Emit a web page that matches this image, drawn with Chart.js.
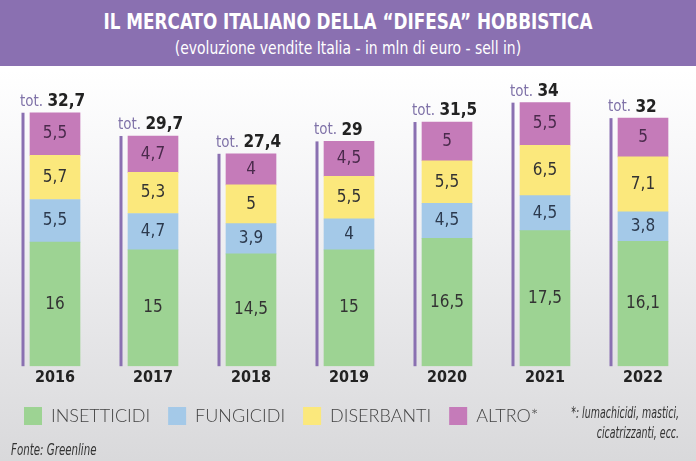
<!DOCTYPE html>
<html lang="it">
<head>
<meta charset="utf-8">
<script src="https://cdn.jsdelivr.net/npm/chart.js@4.4.0/dist/chart.umd.min.js"></script>
<style>
  html, body { margin: 0; padding: 0; }
  body {
    width: 696px; height: 461px; overflow: hidden; position: relative;
    background: linear-gradient(#ffffff 70px, #f3f3f5 200px, #d9d9db 461px);
    font-family: "DejaVu Sans Condensed", sans-serif;
  }
  .testata {
    position: absolute; left: 0; top: 0; width: 696px; height: 66px;
    background: #8a70b1; color: #fff; text-align: center;
  }
  .testata h1 {
    margin: 0; padding-top: 8px; font-size: 22px; font-weight: bold; line-height: 28px;
    transform: scaleX(0.85);
  }
  .testata p { margin: 0; font-size: 18px; line-height: 24px; transform: scaleX(0.86); }
  .grafico { position: absolute; left: 0; top: 66px; width: 696px; height: 395px; }
  .fonte {
    position: absolute; left: 11px; top: 441px; font-size: 15px; font-style: italic; color: #333;
    transform: scaleX(0.76); transform-origin: left center;
  }
  .nota {
    position: absolute; right: 17px; top: 403px; font-size: 15px; font-style: italic;
    color: #333; text-align: right; line-height: 20px;
    transform: scaleX(0.7); transform-origin: right center;
  }
</style>
</head>
<body>
<div class="testata">
  <h1>IL MERCATO ITALIANO DELLA “DIFESA” HOBBISTICA</h1>
  <p>(evoluzione vendite Italia - in mln di euro - sell in)</p>
</div>
<div class="grafico"><canvas id="grafico" width="696" height="395"></canvas></div>
<div class="nota">*: lumachicidi, mastici,<br>cicatrizzanti, ecc.</div>
<div class="fonte">Fonte: Greenline</div>

<script>
// dati (mln di euro)
const anni = ["2016", "2017", "2018", "2019", "2020", "2021", "2022"];
const insetticidi = [16, 15, 14.5, 15, 16.5, 17.5, 16.1];
const fungicidi = [5.5, 4.7, 3.9, 4, 4.5, 4.5, 3.8];
const diserbanti = [5.7, 5.3, 5, 5.5, 5.5, 6.5, 7.1];
const altro = [5.5, 4.7, 4, 4.5, 5, 5.5, 5];
const totali = ["32,7", "29,7", "27,4", "29", "31,5", "34", "32"];

const FONT = '"DejaVu Sans Condensed", sans-serif';
const coloriTesto = ["#333333", "#2c3a4e", "#333333", "#4a2a4c"];

function virgola(v) {
  return String(v).replace(".", ",");
}

// numeri dentro i segmenti
const etichette = {
  id: "etichette",
  afterDatasetsDraw(chart) {
    const ctx = chart.ctx;
    ctx.save();
    ctx.font = "17px " + FONT;
    ctx.textAlign = "center";
    ctx.textBaseline = "middle";
    chart.data.datasets.forEach((ds, i) => {
      ctx.fillStyle = coloriTesto[i];
      chart.getDatasetMeta(i).data.forEach((bar, j) => {
        const mid = (bar.y + bar.base) / 2;
        ctx.fillText(virgola(ds.data[j]), bar.x, mid);
      });
    });
    ctx.restore();
  }
};

// linea viola a sinistra + "tot."
const totale = {
  id: "totale",
  afterDatasetsDraw(chart) {
    const ctx = chart.ctx;
    const ultimo = chart.getDatasetMeta(chart.data.datasets.length - 1).data;
    const base = chart.getDatasetMeta(0).data;
    ctx.save();
    ultimo.forEach((bar, j) => {
      const x = bar.x - bar.width / 2 - 7;
      ctx.fillStyle = "#8a70b1";
      ctx.fillRect(x - 1.5, bar.y, 3, base[j].base - bar.y);

      const ty = bar.y - 11;
      ctx.textBaseline = "middle";
      ctx.textAlign = "left";
      ctx.font = "15px " + FONT;
      ctx.fillStyle = "#7f72a8";
      ctx.fillText("tot.", x - 3, ty);
      const w = ctx.measureText("tot. ").width;
      ctx.font = "bold 17px " + FONT;
      ctx.fillStyle = "#222";
      ctx.fillText(totali[j], x - 3 + w, ty);
    });
    ctx.restore();
  }
};

new Chart(document.getElementById("grafico"), {
  type: "bar",
  data: {
    labels: anni,
    datasets: [
      { label: "INSETTICIDI", data: insetticidi, backgroundColor: "#9dd393" },
      { label: "FUNGICIDI", data: fungicidi, backgroundColor: "#a4c9e8" },
      { label: "DISERBANTI", data: diserbanti, backgroundColor: "#fbe87c" },
      { label: "ALTRO*", data: altro, backgroundColor: "#c57bb9" }
    ]
  },
  options: {
    responsive: false,
    animation: false,
    events: [],
    barThickness: 50,
    layout: { padding: { left: 6, right: 4, top: 32, bottom: 26 } },
    scales: {
      x: {
        stacked: true,
        grid: { display: false, drawTicks: false },
        border: { display: false },
        ticks: {
          color: "#222",
          padding: 5,
          font: { family: FONT, size: 16, weight: "bold", lineHeight: 0.8 }
        }
      },
      y: {
        stacked: true,
        display: false,
        min: 0,
        max: 34.6
      }
    },
    plugins: {
      legend: {
        position: "bottom",
        align: "start",
        labels: {
          boxWidth: 18,
          boxHeight: 18,
          padding: 18,
          color: "#444",
          font: { family: "Lato", size: 18, weight: "300" }
        }
      },
      tooltip: { enabled: false }
    }
  },
  plugins: [etichette, totale]
});
</script>
</body>
</html>
